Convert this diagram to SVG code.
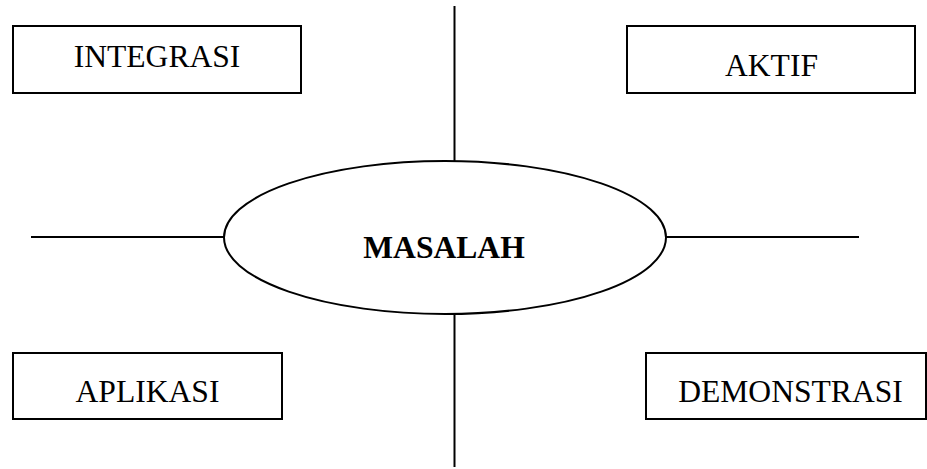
<svg xmlns="http://www.w3.org/2000/svg" width="927" height="469" viewBox="0 0 927 469">
  <style>
    .box { fill: #ffffff; stroke: #000000; stroke-width: 2; }
    .oval { fill: #ffffff; stroke: #000000; stroke-width: 2; }
    .line { stroke: #000000; stroke-width: 2; fill: none; }
    .label { font-family: "Liberation Serif", "Times New Roman", serif; font-size: 31.6px; fill: #000000; text-anchor: middle; }
    .bold { font-weight: bold; }
  </style>
  <rect width="927" height="469" fill="#ffffff"/>

  <!-- cross of connectors around the central oval -->
  <g id="connectors">
    <line class="line" x1="454.5" y1="6" x2="454.5" y2="161"/>
    <line class="line" x1="454.5" y1="314" x2="454.5" y2="467"/>
    <line class="line" x1="31" y1="237" x2="224" y2="237"/>
    <line class="line" x1="666" y1="237" x2="859" y2="237"/>
  </g>

  <g id="masalah">
    <ellipse class="oval" cx="445" cy="237.5" rx="221" ry="76.5"/>
    <text class="label bold" x="444" y="258">MASALAH</text>
  </g>

  <g id="integrasi">
    <rect class="box" x="13" y="26" width="288" height="67"/>
    <text class="label" x="157" y="67">INTEGRASI</text>
  </g>

  <g id="aktif">
    <rect class="box" x="627" y="26" width="288" height="67"/>
    <text class="label" x="771.5" y="76">AKTIF</text>
  </g>

  <g id="aplikasi">
    <rect class="box" x="13" y="353" width="269" height="66"/>
    <text class="label" x="147.5" y="402">APLIKASI</text>
  </g>

  <g id="demonstrasi">
    <rect class="box" x="646" y="353" width="280" height="66"/>
    <text class="label" x="790.5" y="402">DEMONSTRASI</text>
  </g>
</svg>
